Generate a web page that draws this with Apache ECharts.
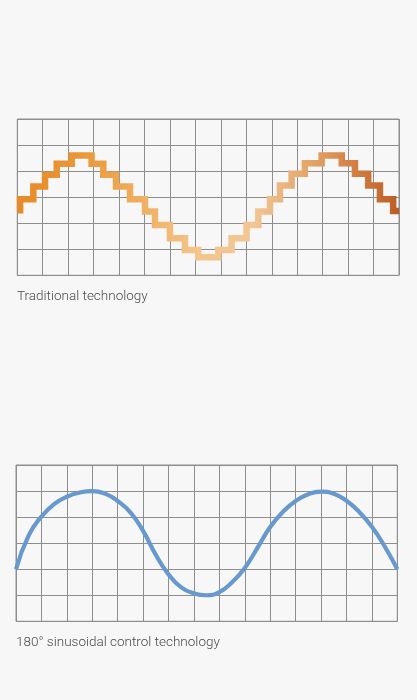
<!DOCTYPE html>
<html>
<head>
<meta charset="utf-8">
<script src="https://cdn.jsdelivr.net/npm/echarts@6/dist/echarts.min.js"></script>
<style>
html,body{margin:0;padding:0;background:#f7f7f7;}
#chart{width:417px;height:700px;}
</style>
</head>
<body>
<div id="chart"></div>
<script>
// Traditional technology: staircase (segment start column, level in grid rows)
var stepX = [0, 0.11, 0.63, 1.09, 1.55, 2.14, 2.92, 3.38, 3.88, 4.43, 5.02, 5.41, 6.0, 6.59, 7.11, 7.9, 8.42, 9.01, 9.47, 9.93, 10.32, 10.78, 11.3, 11.96, 12.75, 13.27, 13.79, 14.25, 14.77, 15];
var stepLevels = [2.5, 2.92, 3.41, 3.86, 4.28, 4.6, 4.28, 3.86, 3.41, 2.92, 2.45, 1.93, 1.42, 0.97, 0.69, 0.97, 1.42, 1.93, 2.45, 2.92, 3.45, 3.9, 4.3, 4.6, 4.3, 3.9, 3.45, 2.92, 2.47, 2.47];

// 180° sinusoidal control technology: smooth curve
var sineX = [0, 0.5, 1, 1.5, 2, 2.5, 3, 3.5, 4, 4.5, 5, 5.5, 6, 6.5, 7, 7.5, 8, 8.5, 9, 9.5, 10, 10.5, 11, 11.5, 12, 12.5, 13, 13.5, 14, 14.5, 15];
var sineLevels = [2.0, 3.3, 4.02, 4.5, 4.78, 4.94, 5.0, 4.9, 4.62, 4.18, 3.47, 2.55, 1.8, 1.3, 1.07, 1.0, 1.12, 1.5, 2.05, 2.82, 3.62, 4.2, 4.62, 4.88, 4.98, 4.9, 4.63, 4.2, 3.63, 2.88, 2.0];

var titles = ['Traditional technology', '180° sinusoidal control technology'];
var columns = 15, rows = 6;

function zip(xs, ys) { return xs.map(function (x, i) { return [x, ys[i]]; }); }

var gridLine = '#8e8e8e';
function xAxis(idx) {
  return {
    type: 'value', gridIndex: idx, min: 0, max: columns, interval: 1,
    axisLine: { show: false }, axisTick: { show: false }, axisLabel: { show: false },
    splitLine: { show: true, showMinLine: true, showMaxLine: true, lineStyle: { color: gridLine, width: 1 } }
  };
}
function yAxis(idx) {
  return {
    type: 'value', gridIndex: idx, min: 0, max: rows, interval: 1,
    axisLine: { show: false }, axisTick: { show: false }, axisLabel: { show: false },
    splitLine: { show: true, showMinLine: true, showMaxLine: true, lineStyle: { color: gridLine, width: 1 } }
  };
}

var chart = echarts.init(document.getElementById('chart'), null, { renderer: 'canvas' });
chart.setOption({
  backgroundColor: '#f7f7f7',
  animation: false,
  grid: [
    { left: 17.3, top: 119, width: 381.7, height: 156.3, show: true, borderColor: gridLine, borderWidth: 1, backgroundColor: 'transparent' },
    { left: 16, top: 465, width: 381.3, height: 156.3, show: true, borderColor: gridLine, borderWidth: 1, backgroundColor: 'transparent' }
  ],
  xAxis: [xAxis(0), xAxis(1)],
  yAxis: [yAxis(0), yAxis(1)],
  series: [
    {
      type: 'line', xAxisIndex: 0, yAxisIndex: 0, step: 'end', symbol: 'none', silent: true,
      data: zip(stepX, stepLevels),
      lineStyle: {
        width: 6.5, join: 'miter', cap: 'butt',
        color: {
          type: 'linear', x: 0, y: 0, x2: 1, y2: 0,
          colorStops: [
            { offset: 0, color: '#e68a28' },
            { offset: 0.18, color: '#ea983a' },
            { offset: 0.33, color: '#efb062' },
            { offset: 0.48, color: '#f4c68e' },
            { offset: 0.62, color: '#f2c594' },
            { offset: 0.76, color: '#e3a66a' },
            { offset: 0.88, color: '#d27e42' },
            { offset: 1, color: '#bb5a22' }
          ]
        }
      }
    },
    {
      type: 'line', xAxisIndex: 1, yAxisIndex: 1, smooth: 0.5, symbol: 'none', silent: true,
      data: zip(sineX, sineLevels),
      lineStyle: { width: 4.2, color: '#6799cf', cap: 'butt' }
    }
  ],
  graphic: [
    { type: 'text', left: 17, top: 290, style: { text: titles[0], font: '300 13.5px Roboto', fill: '#4a4a4a' } },
    { type: 'text', left: 16, top: 636, style: { text: titles[1], font: '300 13.5px Roboto', fill: '#4a4a4a' } }
  ]
});
</script>
</body>
</html>
